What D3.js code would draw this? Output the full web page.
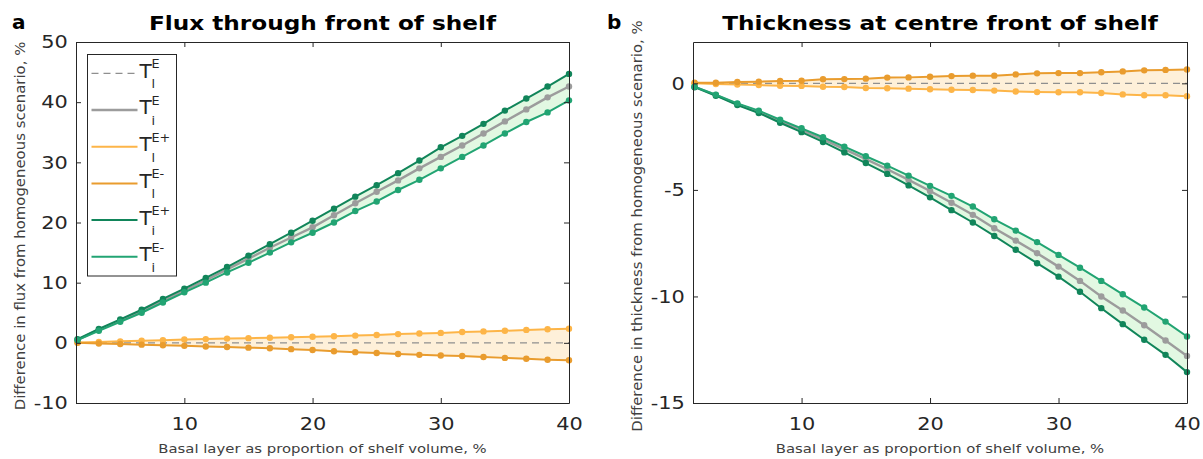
<!DOCTYPE html>
<html>
<head>
<meta charset="utf-8">
<script src="https://cdn.jsdelivr.net/npm/d3@7"></script>
<style>
  body { margin: 0; background: #fff; }
  svg { font-family: "DejaVu Sans", sans-serif; }
</style>
</head>
<body>
<svg id="chart" width="1203" height="459"></svg>
<script>
// basal layer as proportion of shelf volume, %
const xVals = [1.67, 3.33, 5, 6.67, 8.33, 10, 11.67, 13.33, 15, 16.67, 18.33, 20,
  21.67, 23.33, 25, 26.67, 28.33, 30, 31.67, 33.33, 35, 36.67, 38.33, 40];

// panel a: flux difference, %
const fluxTiE = [0.5, 2.2, 3.7, 5.3, 7.0, 8.7, 10.4, 12.2, 14.0, 15.8, 17.5, 19.2,
  21.2, 23.2, 25.1, 27.0, 29.0, 30.9, 32.8, 34.8, 36.8, 38.8, 40.8, 42.6];
const fluxTlEplus = [0.05, 0.15, 0.25, 0.35, 0.45, 0.55, 0.62, 0.7, 0.78, 0.85, 0.92, 1.0,
  1.1, 1.2, 1.3, 1.45, 1.55, 1.65, 1.8, 1.9, 2.0, 2.15, 2.25, 2.35];
const fluxTlEminus = [0, -0.12, -0.2, -0.3, -0.4, -0.5, -0.6, -0.7, -0.8, -0.9, -1.05, -1.2,
  -1.4, -1.55, -1.7, -1.85, -2.0, -2.1, -2.2, -2.35, -2.5, -2.65, -2.8, -2.9];
const fluxTiEplus = [0.6, 2.3, 3.9, 5.5, 7.3, 9.0, 10.8, 12.6, 14.5, 16.4, 18.3, 20.3,
  22.3, 24.3, 26.2, 28.2, 30.3, 32.5, 34.4, 36.4, 38.6, 40.6, 42.6, 44.7];
const fluxTiEminus = [0.45, 2.0, 3.5, 5.0, 6.7, 8.4, 10.0, 11.7, 13.3, 15.0, 16.7, 18.3,
  20.0, 21.9, 23.5, 25.4, 27.1, 29.0, 30.9, 32.8, 34.8, 36.7, 38.3, 40.3];

// panel b: thickness difference, %
const thickTiE = [-0.16, -0.55, -0.97, -1.33, -1.77, -2.19, -2.63, -3.09, -3.56, -4.03, -4.53, -5.05,
  -5.6, -6.17, -6.8, -7.38, -7.97, -8.6, -9.27, -10.0, -10.66, -11.35, -12.07, -12.79];
const thickTlEplus = [0, -0.03, -0.06, -0.08, -0.11, -0.12, -0.16, -0.17, -0.22, -0.23, -0.25, -0.28,
  -0.3, -0.31, -0.34, -0.38, -0.41, -0.42, -0.42, -0.45, -0.52, -0.56, -0.56, -0.6];
const thickTlEminus = [0.03, 0.03, 0.06, 0.08, 0.11, 0.12, 0.19, 0.2, 0.22, 0.27, 0.28, 0.31,
  0.34, 0.36, 0.36, 0.42, 0.47, 0.48, 0.48, 0.52, 0.56, 0.61, 0.63, 0.65];
const thickTiEplus = [-0.18, -0.58, -1.02, -1.39, -1.85, -2.29, -2.75, -3.24, -3.74, -4.25, -4.79, -5.35,
  -5.95, -6.53, -7.16, -7.81, -8.44, -9.07, -9.78, -10.55, -11.3, -12.03, -12.74, -13.55];
const thickTiEminus = [-0.16, -0.53, -0.94, -1.28, -1.71, -2.11, -2.53, -2.97, -3.42, -3.86, -4.33, -4.81,
  -5.28, -5.78, -6.38, -6.91, -7.45, -8.05, -8.65, -9.27, -9.9, -10.52, -11.18, -11.88];

// T_l^E is the homogeneous reference: zero everywhere
const baseline = [0, 0];

const xTicks = [10, 20, 30, 40];
const fluxTicks = [-10, 0, 10, 20, 30, 40, 50];
const thickTicks = [-15, -10, -5, 0];

// legend entries: sup / sub text
const legendItems = [
  { key: "TlE", sup: "E", sub: "l" },
  { key: "TiE", sup: "E", sub: "i" },
  { key: "TlEplus", sup: "E+", sub: "l" },
  { key: "TlEminus", sup: "E-", sub: "l" },
  { key: "TiEplus", sup: "E+", sub: "i" },
  { key: "TiEminus", sup: "E-", sub: "i" }
];

const styles = {
  TlE: { color: "#8f8f8f", width: 1.3, dash: "7,5", marker: false },
  TiE: { color: "#9c9c9c", width: 2.4, dash: null, marker: true },
  TlEplus: { color: "#fdb548", width: 2, dash: null, marker: true },
  TlEminus: { color: "#e99c2e", width: 2, dash: null, marker: true },
  TiEplus: { color: "#11855a", width: 2, dash: null, marker: true },
  TiEminus: { color: "#22a473", width: 2, dash: null, marker: true }
};
const greenFill = "#e2f8e2";
const orangeFill = "#fef0d9";
const axisColor = "#262626";
const stretch = 1.16; // text in the figure is a bit wide

const svg = d3.select("#chart");

function wideText(parent, x, y, size, str) {
  return parent.append("text")
    .attr("transform", `translate(${x},${y}) scale(${stretch},1)`)
    .style("font-size", size + "px").text(str);
}

function panel(opt) {
  const x = d3.scaleLinear().domain([1.55, 40]).range([opt.left, opt.right]);
  const y = d3.scaleLinear().domain(opt.yDomain).range([403, 42]);
  const g = svg.append("g");

  const pts = (arr) => arr.map((v, i) => [xVals[i], v]);
  const area = d3.area().x((d, i) => x(xVals[i])).y0((d) => y(d[0])).y1((d) => y(d[1]));
  const band = (a, b) => a.map((v, i) => [v, b[i]]);

  g.append("path").datum(band(opt.s.TlEplus, opt.s.TlEminus))
    .attr("d", area).attr("fill", orangeFill);
  g.append("path").datum(band(opt.s.TiEplus, opt.s.TiEminus))
    .attr("d", area).attr("fill", greenFill);

  const line = d3.line().x((d) => x(d[0])).y((d) => y(d[1]));
  ["TlE", "TiE", "TlEplus", "TlEminus", "TiEplus", "TiEminus"].forEach((k) => {
    const st = styles[k];
    const data = k == "TlE" ? baseline.map((v, i) => [x.domain()[i], v]) : pts(opt.s[k]);
    g.append("path").datum(data).attr("d", line)
      .attr("fill", "none").attr("stroke", st.color)
      .attr("stroke-width", st.width)
      .attr("stroke-dasharray", st.dash);
    if (st.marker) {
      g.selectAll(null).data(data).join("circle")
        .attr("cx", (d) => x(d[0])).attr("cy", (d) => y(d[1]))
        .attr("r", 3.2).attr("fill", st.color);
    }
  });

  // axes, matlab style with inward ticks on all four sides
  const fmt = (d) => String(d);
  const ax = (gen, tx, ty) => {
    const a = g.append("g").attr("transform", `translate(${tx},${ty})`).call(gen);
    a.select(".domain").attr("stroke", axisColor);
    a.selectAll(".tick line").attr("stroke", axisColor);
    a.selectAll(".tick text").attr("fill", axisColor)
      .style("font-size", "18px").style("font-family", "DejaVu Sans");
    return a;
  };
  ax(d3.axisBottom(x).tickValues(xTicks).tickFormat(fmt).tickSize(-5).tickSizeOuter(0).tickPadding(14), 0, 403)
    .selectAll(".tick text").attr("transform", `scale(${stretch},1)`);
  ax(d3.axisTop(x).tickValues(xTicks).tickFormat("").tickSize(-5).tickSizeOuter(0), 0, 42);
  ax(d3.axisLeft(y).tickValues(opt.yTicks).tickFormat(fmt).tickSize(-5).tickSizeOuter(0).tickPadding(7), opt.left, 0)
    .selectAll(".tick text").attr("transform", `scale(${stretch},1)`);
  ax(d3.axisRight(y).tickValues(opt.yTicks).tickFormat("").tickSize(-5).tickSizeOuter(0), opt.right, 0);

  const cx = (opt.left + opt.right) / 2;
  wideText(g, cx, 30, 20, opt.title)
    .attr("text-anchor", "middle").style("font-weight", "bold");
  g.append("text").attr("x", opt.letterX).attr("y", 29)
    .style("font-size", "20px").style("font-weight", "bold").text(opt.letter);
  wideText(g, cx, 453, 12.8, "Basal layer as proportion of shelf volume, %")
    .attr("text-anchor", "middle").attr("fill", "#404040");
  g.append("text")
    .attr("transform", `translate(${opt.yLabelX},226) rotate(-90)`)
    .attr("text-anchor", "middle").attr("fill", "#404040").style("font-size", "14.9px")
    .text(opt.yLabel);
  return g;
}

panel({
  left: 76, right: 569, yDomain: [-10, 50], yTicks: fluxTicks,
  title: "Flux through front of shelf", letter: "a", letterX: 12,
  yLabel: "Difference in flux from homogeneous scenario, %", yLabelX: 25,
  s: { TiE: fluxTiE, TlEplus: fluxTlEplus, TlEminus: fluxTlEminus, TiEplus: fluxTiEplus, TiEminus: fluxTiEminus }
});

panel({
  left: 693, right: 1187, yDomain: [-15, 1.94], yTicks: thickTicks,
  title: "Thickness at centre front of shelf", letter: "b", letterX: 607,
  yLabel: "Difference in thickness from homogeneous scenario, %", yLabelX: 642,
  s: { TiE: thickTiE, TlEplus: thickTlEplus, TlEminus: thickTlEminus, TiEplus: thickTiEplus, TiEminus: thickTiEminus }
});

// legend in panel a
const leg = svg.append("g");
leg.append("rect").attr("x", 87.5).attr("y", 54.5).attr("width", 89).attr("height", 221.5)
  .attr("fill", "#fff").attr("stroke", axisColor).attr("stroke-width", 1);
legendItems.forEach((it, i) => {
  const ly = 73.3 + i * 36.7;
  const st = styles[it.key];
  leg.append("line").attr("x1", 91.5).attr("x2", 137.5).attr("y1", ly).attr("y2", ly)
    .attr("stroke", st.color).attr("stroke-width", st.width).attr("stroke-dasharray", st.dash);
  leg.append("text").attr("x", 139.5).attr("y", ly + 4.4).attr("fill", axisColor)
    .style("font-size", "20px").text("T");
  leg.append("text").attr("x", 151.5).attr("y", ly - 5).attr("fill", axisColor)
    .style("font-size", "12.8px").text(it.sup);
  leg.append("text").attr("x", 151.5).attr("y", ly + 15).attr("fill", axisColor)
    .style("font-size", "12.8px").text(it.sub);
});
</script>
</body>
</html>
